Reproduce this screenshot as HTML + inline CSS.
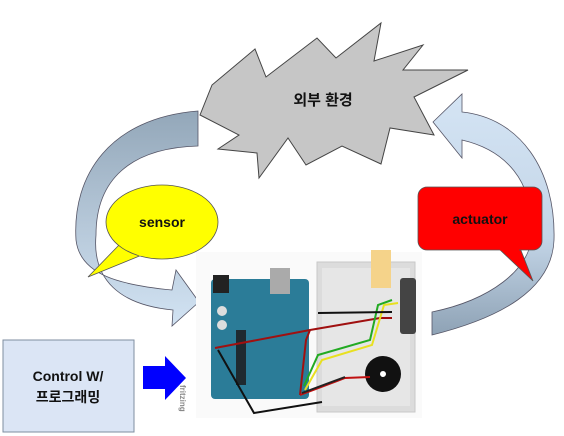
<!DOCTYPE html>
<html><head><meta charset="utf-8"><style>
html,body{margin:0;padding:0;background:#fff;width:564px;height:436px;overflow:hidden}
svg{display:block}
text{font-family:"Liberation Sans","Noto Sans CJK KR",sans-serif;font-weight:bold}
</style></head><body>
<svg width="564" height="436" viewBox="0 0 564 436">
<defs>
<linearGradient id="lg" x1="0" y1="0" x2="0" y2="1">
<stop offset="0" stop-color="#93a7b9"/><stop offset="0.55" stop-color="#b7c9da"/><stop offset="1" stop-color="#d2e3f3"/></linearGradient>
<linearGradient id="rg" x1="0" y1="0" x2="0" y2="1">
<stop offset="0" stop-color="#d4e4f4"/><stop offset="0.6" stop-color="#c3d5e7"/><stop offset="1" stop-color="#8ea2b5"/></linearGradient>
</defs>
<g>
<polygon points="200,115 212,85 255,49 266,77 317,38 336,58 381,23 374,61 423,45 403,70 468,70 414,97 434,135 390,128 381,164 342,146 306,165 288,138 259,178 257,153 218,149 239,135" fill="#c6c6c6" stroke="#444" stroke-width="1"/>
<text x="323" y="105" font-size="15" text-anchor="middle" fill="#111">외부 환경</text>
</g>
<path d="M198,111 C110,118 72,175 76,240 C80,275 120,285 172,290 L176,270 L199,302 L172,326 L173,310 C120,305 92,280 96,235 C96,180 130,148 198,146 Z" fill="url(#lg)" stroke="#556" stroke-width="0.8"/>
<path d="M433,122 L462,94 L462,112 C520,118 556,170 554,240 C552,290 500,318 432,335 L432,312 C490,300 530,270 532,235 C534,180 505,150 462,140 L462,158 Z" fill="url(#rg)" stroke="#556" stroke-width="0.8"/>
<g>
<path d="M120,244 L88,277 L142,255 Z" fill="#ffff00" stroke="#555" stroke-width="0.8"/>
<ellipse cx="162" cy="222" rx="56" ry="37" fill="#ffff00" stroke="#555" stroke-width="0.8"/>
<path d="M121,243 L141,255" stroke="#ffff00" stroke-width="3"/>
<text x="162" y="227" font-size="14" text-anchor="middle" fill="#111">sensor</text>
</g>
<g>
<path d="M498,248 L533,281 L520,248 Z" fill="#ff0000" stroke="#555" stroke-width="0.8"/>
<rect x="418" y="187" width="124" height="63" rx="9" fill="#ff0000" stroke="#555" stroke-width="0.8"/>
<path d="M500,249 L519,249" stroke="#ff0000" stroke-width="3"/>
<text x="480" y="224" font-size="14" text-anchor="middle" fill="#111">actuator</text>
</g>
<g>
<rect x="3" y="340" width="131" height="92" fill="#dbe5f5" stroke="#7f8ea0" stroke-width="1"/>
<text x="68" y="381" font-size="14" text-anchor="middle" fill="#111">Control W/</text>
<text x="68" y="402" font-size="14" text-anchor="middle" fill="#111">프로그래밍</text>
</g>
<polygon points="143,366 165,366 165,356 186,378 165,400 165,389 143,389" fill="#0000ff"/>
<g>
<rect x="196" y="252" width="226" height="166" fill="#fafafa"/>
<rect x="317" y="262" width="98" height="150" fill="#dcdcdc" stroke="#c8c8c8"/>
<rect x="322" y="268" width="88" height="138" fill="#e6e6e6"/>
<rect x="371" y="250" width="20" height="38" fill="#f5d38a"/>
<rect x="400" y="278" width="16" height="56" rx="3" fill="#444"/>
<rect x="211" y="279" width="98" height="120" rx="4" fill="#2b7c98"/>
<rect x="213" y="275" width="16" height="18" fill="#222"/>
<rect x="270" y="268" width="20" height="26" fill="#aaa"/>
<rect x="236" y="330" width="10" height="55" fill="#1f2a30"/>
<circle cx="222" cy="311" r="5" fill="#ddd"/><circle cx="222" cy="325" r="5" fill="#ddd"/>
<circle cx="383" cy="374" r="18" fill="#111"/>
<circle cx="383" cy="374" r="3" fill="#fff"/>
<polyline points="215,348 310,330 380,318 392,318" fill="none" stroke="#a01010" stroke-width="2"/>
<polyline points="218,350 254,413 322,402" fill="none" stroke="#111" stroke-width="2"/>
<polyline points="300,395 306,340 310,330" fill="none" stroke="#a01010" stroke-width="2"/>
<polyline points="300,395 345,378 370,377" fill="none" stroke="#c01010" stroke-width="2"/>
<polyline points="304,386 318,355 370,340 378,305 392,300" fill="none" stroke="#22aa22" stroke-width="2"/>
<polyline points="305,390 322,360 372,345 384,305 398,303" fill="none" stroke="#e8e020" stroke-width="2"/>
<polyline points="302,393 345,377" fill="none" stroke="#222" stroke-width="2"/>
<polyline points="318,313 392,312" fill="none" stroke="#111" stroke-width="2"/>
<text x="200" y="405" font-size="8" fill="#888" font-weight="normal" transform="rotate(90 200 385)">fritzing</text>
</g>
</svg>
</body></html>
